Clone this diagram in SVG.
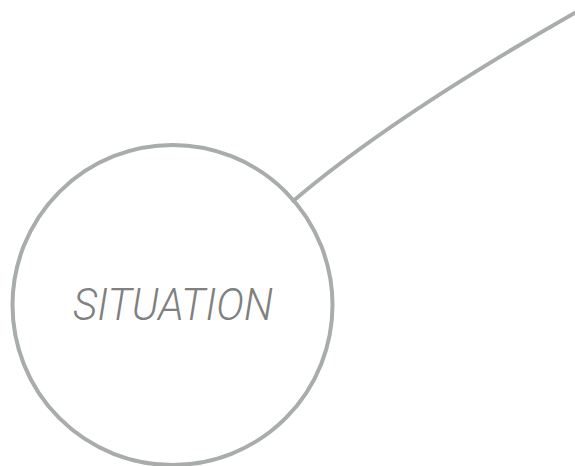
<svg xmlns="http://www.w3.org/2000/svg" width="575" height="466" viewBox="0 0 575 466">
<style>
.ln{fill:none;stroke:#a8acaa;stroke-width:4}
.lbl{font-family:Roboto,"Liberation Sans",sans-serif;font-weight:300;font-style:italic;font-size:44px;fill:#7f8080}
</style>
<rect width="575" height="466" fill="#fff"/>
<g id="connectors">
<path class="ln" d="M292,202 Q390,118 578,11"/>
</g>
<g id="situation">
<circle class="ln" cx="172.5" cy="305" r="160" fill="#fff"/>
<text class="lbl" x="173" y="320" text-anchor="middle" textLength="200" lengthAdjust="spacingAndGlyphs">SITUATION</text>
</g>
</svg>
